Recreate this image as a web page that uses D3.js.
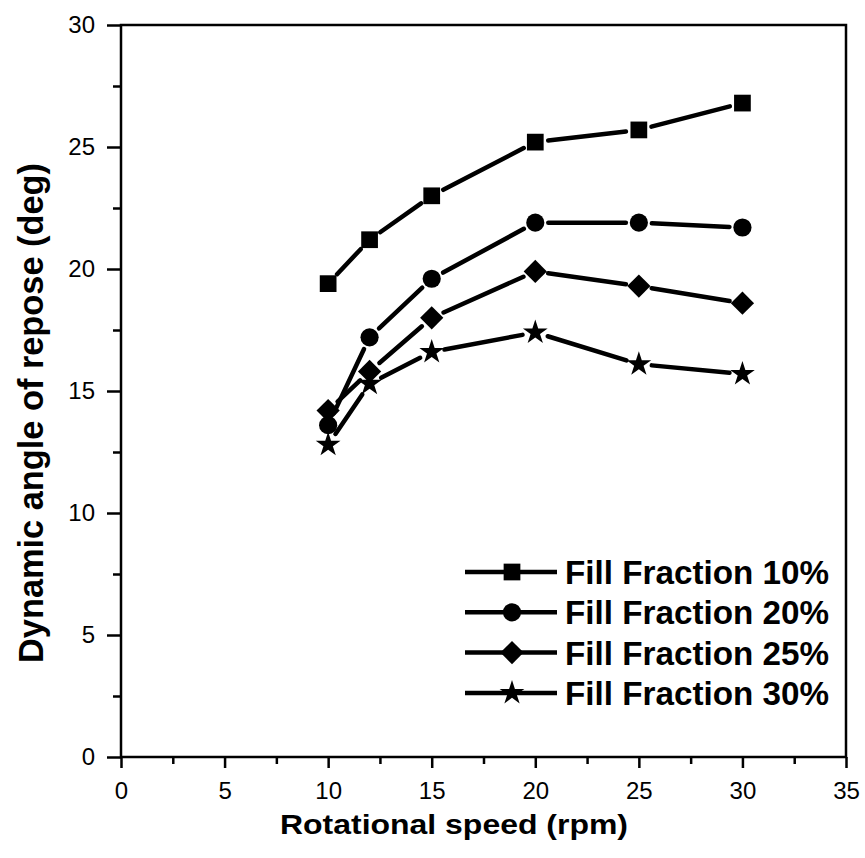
<!DOCTYPE html>
<html>
<head>
<meta charset="utf-8">
<script src="https://cdn.jsdelivr.net/npm/d3@7"></script>
<style>
body { margin: 0; background: #fff; }
text { font-family: "Liberation Sans", Arial, sans-serif; fill: #000; }
</style>
</head>
<body>
<div id="chart"></div>
<script>
// rotational speeds (rpm)
const speeds = [10, 12, 15, 20, 25, 30];
// dynamic angle of repose (deg) per fill fraction
const fill10 = [19.4, 21.2, 23.0, 25.2, 25.7, 26.8];
const fill20 = [13.6, 17.2, 19.6, 21.9, 21.9, 21.7];
const fill25 = [14.2, 15.8, 18.0, 19.9, 19.3, 18.6];
const fill30 = [12.8, 15.3, 16.6, 17.4, 16.1, 15.7];
const seriesNames = ["Fill Fraction 10%", "Fill Fraction 20%", "Fill Fraction 25%", "Fill Fraction 30%"];
const xTicks = [0, 5, 10, 15, 20, 25, 30, 35];
const yTicks = [0, 5, 10, 15, 20, 25, 30];

const width = 865, height = 858;
const margin = {top: 25, right: 19, bottom: 101, left: 121};

const svg = d3.select("#chart").append("svg")
	.attr("width", width)
	.attr("height", height);

const x = d3.scaleLinear().domain([0, 35]).range([margin.left, width - margin.right]);
const y = d3.scaleLinear().domain([0, 30]).range([height - margin.bottom, margin.top]);

//square, circle, diamond (rotated square), star
const series = [
	{name: seriesNames[0], values: fill10, symbol: d3.symbolSquare, size: 280, rot: 0},
	{name: seriesNames[1], values: fill20, symbol: d3.symbolCircle, size: 260, rot: 0},
	{name: seriesNames[2], values: fill25, symbol: d3.symbolSquare, size: 270, rot: 45},
	{name: seriesNames[3], values: fill30, symbol: d3.symbolStar, size: 190, rot: 0}
];

//frame
svg.append("rect")
	.attr("x", x(0)).attr("y", y(30))
	.attr("width", x(35) - x(0)).attr("height", y(0) - y(30))
	.attr("fill", "none").attr("stroke", "#000").attr("stroke-width", 2.5);

//x axis (major + minor ticks)
svg.append("g")
	.attr("transform", "translate(0," + y(0) + ")")
	.call(d3.axisBottom(x).tickValues(xTicks).tickSize(11).tickPadding(14));
svg.append("g")
	.attr("transform", "translate(0," + y(0) + ")")
	.call(d3.axisBottom(x).tickValues(d3.range(2.5, 35, 5)).tickSize(7).tickFormat(""));

//y axis
svg.append("g")
	.attr("transform", "translate(" + x(0) + ",0)")
	.call(d3.axisLeft(y).tickValues(yTicks).tickSize(14).tickPadding(12));
svg.append("g")
	.attr("transform", "translate(" + x(0) + ",0)")
	.call(d3.axisLeft(y).tickValues(d3.range(2.5, 30, 5)).tickSize(8).tickFormat(""));

svg.selectAll(".domain").remove();
svg.selectAll(".tick line").attr("stroke", "#000").attr("stroke-width", 2.5);
svg.selectAll(".tick text")
	.style("font-family", "'Liberation Sans', Arial, sans-serif")
	.style("font-size", "24px")
	.attr("fill", "#000");

//axis titles
svg.append("text")
	.attr("x", 454).attr("y", 834)
	.attr("text-anchor", "middle")
	.attr("textLength", 348).attr("lengthAdjust", "spacingAndGlyphs")
	.style("font-size", "28px").style("font-weight", "bold")
	.text("Rotational speed (rpm)");
svg.append("text")
	.attr("transform", "translate(43,413) rotate(-90)")
	.attr("text-anchor", "middle")
	.attr("textLength", 500).attr("lengthAdjust", "spacingAndGlyphs")
	.style("font-size", "35px").style("font-weight", "bold")
	.text("Dynamic angle of repose (deg)");

function marker(sel, s) {
	return sel.append("path")
		.attr("d", d3.symbol().type(s.symbol).size(s.size))
		.attr("fill", "#000");
}

//lines with gaps around the markers
const gap = 13;
series.forEach(function(s) {
	const pts = speeds.map(function(v, i) { return [x(v), y(s.values[i])]; });
	for (let i = 0; i < pts.length - 1; i++) {
		const dx = pts[i + 1][0] - pts[i][0], dy = pts[i + 1][1] - pts[i][1];
		const len = Math.sqrt(dx * dx + dy * dy);
		if (len <= 2 * gap) continue;
		const ux = dx / len, uy = dy / len;
		svg.append("line")
			.attr("x1", pts[i][0] + ux * gap).attr("y1", pts[i][1] + uy * gap)
			.attr("x2", pts[i + 1][0] - ux * gap).attr("y2", pts[i + 1][1] - uy * gap)
			.attr("stroke", "#000").attr("stroke-width", 4.5).attr("stroke-linecap", "round");
	}
	pts.forEach(function(p) {
		const g = svg.append("g").attr("transform", "translate(" + p[0] + "," + p[1] + ") rotate(" + s.rot + ")");
		marker(g, s);
	});
});

//legend
const legend = svg.append("g");
series.forEach(function(s, i) {
	const ly = 572 + i * 40.3;
	legend.append("line")
		.attr("x1", 465).attr("x2", 557).attr("y1", ly).attr("y2", ly)
		.attr("stroke", "#000").attr("stroke-width", 4.5);
	const g = legend.append("g").attr("transform", "translate(512," + ly + ") rotate(" + s.rot + ")");
	marker(g, s);
	legend.append("text")
		.attr("x", 565).attr("y", ly + 12)
		.attr("textLength", 264).attr("lengthAdjust", "spacingAndGlyphs")
		.style("font-size", "33px").style("font-weight", "bold")
		.text(s.name);
});
</script>
</body>
</html>
